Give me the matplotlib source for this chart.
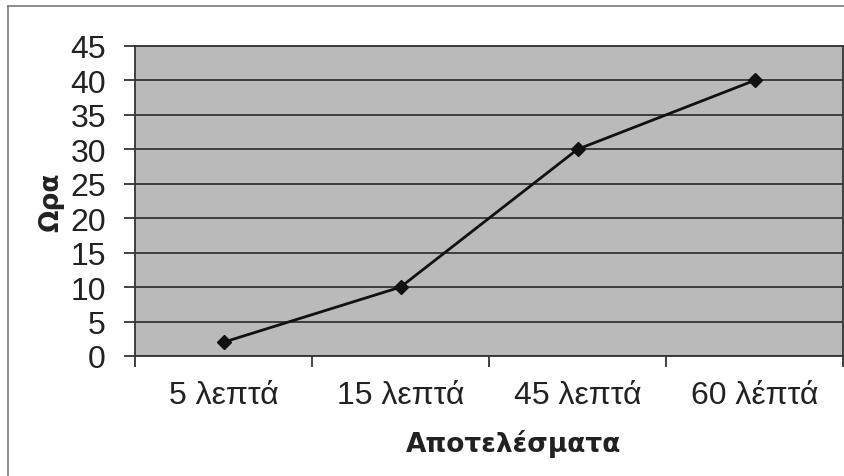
import matplotlib
matplotlib.use("Agg")
import matplotlib.pyplot as plt
from matplotlib.lines import Line2D
from matplotlib.ticker import FixedLocator

plt.rcParams['font.family'] = ['Liberation Sans', 'DejaVu Sans']

# categories and values
categories = ["5 λεπτά", "15 λεπτά", "45 λεπτά", "60 λέπτά"]
hours = [2, 10, 30, 40]
y_ticks = list(range(0, 50, 5))

fig = plt.figure(figsize=(8.45, 4.77), dpi=100)
fig.patch.set_facecolor('white')

# outer chart border (left and top edges)
fig.add_artist(Line2D([8 / 845, 8 / 845], [0, 1 - 7 / 477], transform=fig.transFigure,
                      color='#7a7a7a', lw=1.2))
fig.add_artist(Line2D([8 / 845, 1], [1 - 7 / 477, 1 - 7 / 477], transform=fig.transFigure,
                      color='#7a7a7a', lw=1.2))

ax = fig.add_axes([135 / 845, 120 / 477, 708 / 845, 310 / 477])
ax.set_facecolor('#bababa')

x_pos = range(len(categories))
ax.plot(x_pos, hours, color='#111111', lw=2, marker='D', markersize=7,
        markerfacecolor='#111111', markeredgecolor='#111111', zorder=3)

ax.set_xlim(-0.5, len(categories) - 0.5)
ax.set_ylim(0, 45)
ax.set_yticks(y_ticks)
ax.yaxis.grid(True, color='#333333', lw=1.3)
ax.set_axisbelow(True)

ax.set_xticks(list(x_pos))
ax.set_xticklabels(categories, fontsize=23, color='#222222')
ax.xaxis.set_minor_locator(FixedLocator([i - 0.5 for i in range(len(categories) + 1)]))
ax.tick_params(axis='x', which='major', length=0, pad=17)
ax.tick_params(axis='x', which='minor', length=8, width=1.2, color='#222222', direction='out')
ax.tick_params(axis='y', length=8, width=1.2, color='#222222', direction='out',
               labelsize=23, labelcolor='#222222', pad=13)

for s in ax.spines.values():
    s.set_color('#333333')
    s.set_linewidth(1.3)

ax.set_xlabel("Αποτελέσματα", fontsize=19, fontweight='bold', family='DejaVu Sans',
              color='#222222')
ax.xaxis.set_label_coords(0.535, -0.235)
ax.set_ylabel("Ωρα", fontsize=19, fontweight='bold', family='DejaVu Sans',
              color='#222222', labelpad=4)

fig.savefig('out.png', dpi=100)
